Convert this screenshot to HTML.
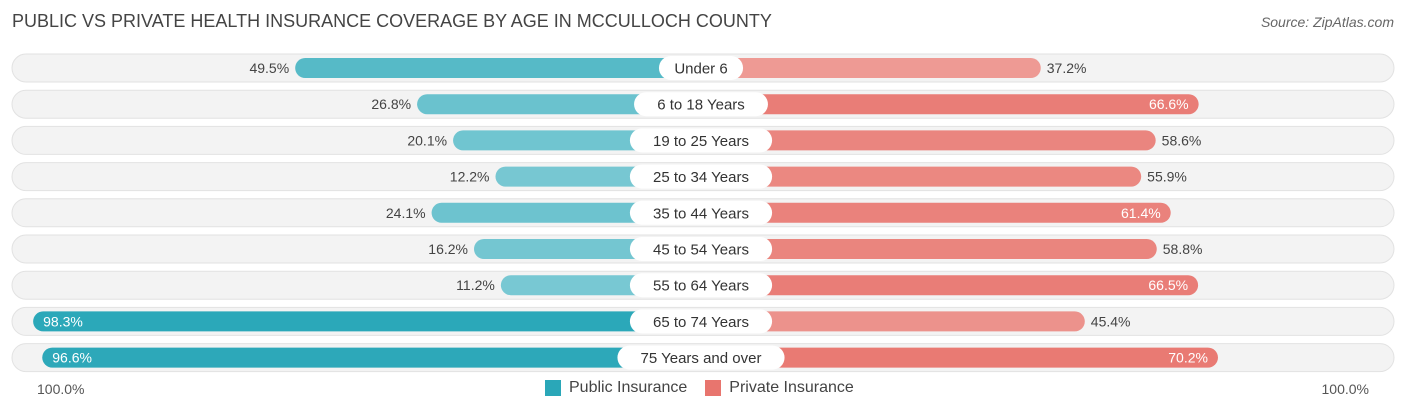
<!DOCTYPE html>
<html><head><meta charset="utf-8"><style>
body{margin:0;width:1406px;height:414px;background:#fff;font-family:"Liberation Sans",sans-serif;overflow:hidden;position:relative}
.t{position:absolute}
</style></head><body>
<div class="t" style="left:12px;top:11px;font-size:18px;color:#444">PUBLIC VS PRIVATE HEALTH INSURANCE COVERAGE BY AGE IN MCCULLOCH COUNTY</div>
<div class="t" style="right:12px;top:14px;font-size:14px;color:#666;font-style:italic">Source: ZipAtlas.com</div>
<svg id="c" class="t" style="left:0;top:0" width="1406" height="414"></svg>
<div class="t" style="left:37px;top:381px;font-size:14px;color:#555">100.0%</div>
<div class="t" style="right:37px;top:381px;font-size:14px;color:#555">100.0%</div>
<div class="t" style="left:545px;top:379px;font-size:16px;color:#444;display:flex;align-items:center">
<span style="width:16px;height:16px;background:#2aa7b8;display:inline-block;margin-right:8px"></span><span>Public Insurance</span>
<span style="width:16px;height:16px;background:#e8756e;display:inline-block;margin:0 8px 0 18px"></span><span>Private Insurance</span></div>
<script>
const categories=["Under 6","6 to 18 Years","19 to 25 Years","25 to 34 Years","35 to 44 Years","45 to 54 Years","55 to 64 Years","65 to 74 Years","75 Years and over"];
const publicVals=[49.5,26.8,20.1,12.2,24.1,16.2,11.2,98.3,96.6];
const privateVals=[37.2,66.6,58.6,55.9,61.4,58.8,66.5,45.4,70.2];
const svg=document.getElementById('c');const NS='http://www.w3.org/2000/svg';
const S=5.37,LO=561,RO=841,Y0=68,DY=36.2;
function mk(t,a){const e=document.createElementNS(NS,t);for(const k in a)e.setAttribute(k,a[k]);svg.appendChild(e);return e;}
function mix(a,b,f){return 'rgb('+a.map((v,i)=>Math.round(v+(b[i]-v)*f)).join(',')+')';}
categories.forEach((c,i)=>{
 const y=Y0+i*DY;
 const bg=mk('rect',{x:12,y:y-14,width:1382,height:28,rx:14,fill:'#f3f3f3',stroke:'#e2e2e2'});
 
 const pv=publicVals[i],rv=privateVals[i];
 const f1=Math.min(1,pv/100),f2=Math.min(1,rv/75);
 const x1=LO-pv*S;
 const b1=mk('rect',{x:x1,y:y-10,width:701-x1,height:20,rx:10,fill:mix([130,204,214],[42,167,184],f1)});
 
 const x2=RO+rv*S;
 const b2=mk('rect',{x:701,y:y-10,width:x2-701,height:20,rx:10,fill:mix([243,190,186],[232,117,110],f2)});
 
 const w=c.length*8.3+26;
 const lb=mk('rect',{x:701-w/2,y:y-12,width:w,height:24,rx:12,fill:'#fff'});
 
 const lt=mk('text',{x:701,y:y+5.5,'text-anchor':'middle','font-size':15,fill:'#333'});lt.textContent=c;
 
 const inL=pv>80;
 const t1=mk('text',{x:inL?x1+10:x1-6,y:y+5,'text-anchor':inL?'start':'end','font-size':14,fill:inL?'#fff':'#444'});t1.textContent=pv.toFixed(1)+'%';
 
 const inR=rv>60;
 const t2=mk('text',{x:inR?x2-10:x2+6,y:y+5,'text-anchor':inR?'end':'start','font-size':14,fill:inR?'#fff':'#444'});t2.textContent=rv.toFixed(1)+'%';
 
});
</script>
</body></html>
